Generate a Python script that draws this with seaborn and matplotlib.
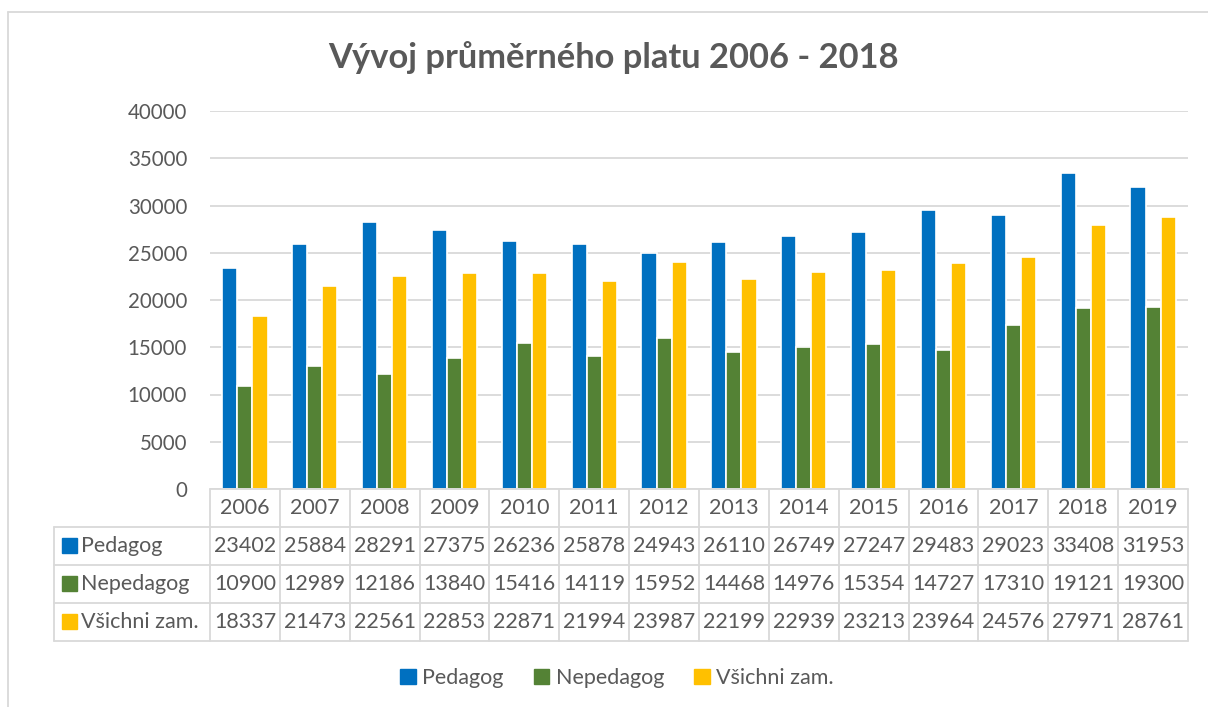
import pandas as pd
import seaborn as sns
import matplotlib.pyplot as plt
from matplotlib.lines import Line2D
from matplotlib.patches import Patch, Rectangle
from matplotlib.transforms import blended_transform_factory

years = ["2006", "2007", "2008", "2009", "2010", "2011", "2012",
         "2013", "2014", "2015", "2016", "2017", "2018", "2019"]
pedagog = [23402, 25884, 28291, 27375, 26236, 25878, 24943,
           26110, 26749, 27247, 29483, 29023, 33408, 31953]
nepedagog = [10900, 12989, 12186, 13840, 15416, 14119, 15952,
             14468, 14976, 15354, 14727, 17310, 19121, 19300]
vsichni = [18337, 21473, 22561, 22853, 22871, 21994, 23987,
           22199, 22939, 23213, 23964, 24576, 27971, 28761]
series_names = ["Pedagog", "Nepedagog", "Všichni zam."]
series_colors = ["#0070C0", "#548235", "#FFC000"]
title = "Vývoj průměrného platu 2006 - 2018"

W, H = 1208, 707
TEXT = "#595959"
GRID = "#D9D9D9"
FS = 15.5

sns.set_theme(style="white")
plt.rcParams["font.family"] = ["Lato", "DejaVu Sans"]

df = pd.DataFrame({
    "year": years * 3,
    "series": [s for s in series_names for _ in years],
    "value": pedagog + nepedagog + vsichni,
})

fig = plt.figure(figsize=(W / 100, H / 100), dpi=100)
ax = fig.add_axes([210 / W, 1 - 489 / H, 978 / W, 378 / H])
sns.barplot(
    data=df, x="year", y="value", hue="series",
    hue_order=series_names, palette=series_colors,
    width=0.65, edgecolor="white", linewidth=1.2,
    saturation=1, ax=ax, legend=False,
)
ax.set_xlim(-0.5, len(years) - 0.5)
ax.set_ylim(0, 40000)
ax.set_yticks(range(0, 40001, 5000))
ax.yaxis.grid(True, color=GRID, lw=1.3)
ax.set_axisbelow(True)
sns.despine(ax=ax, left=True, bottom=True)
ax.set_xticks([])
ax.set_xlabel("")
ax.set_ylabel("")
ax.tick_params(axis="y", length=0, pad=16.5, labelsize=14.8, labelcolor=TEXT)

# data table under the plot
tr = blended_transform_factory(ax.transData, fig.transFigure)
fy = lambda p: 1 - p / H
rows = [489, 527, 565, 603, 641]
x_left = -0.5 - 156 / (978 / len(years))
x_right = len(years) - 0.5
line_kw = dict(color=GRID, lw=1.3, transform=tr, clip_on=False)

fig.add_artist(Line2D([-0.5, x_right], [fy(rows[0])] * 2, **line_kw))
for r in rows[1:]:
    fig.add_artist(Line2D([x_left, x_right], [fy(r)] * 2, **line_kw))
for i in range(len(years) + 1):
    fig.add_artist(Line2D([i - 0.5] * 2, [fy(rows[0]), fy(rows[-1])], **line_kw))
fig.add_artist(Line2D([x_left] * 2, [fy(rows[1]), fy(rows[-1])], **line_kw))

for i, y in enumerate(years):
    fig.text(i, fy((rows[0] + rows[1]) / 2), y, transform=tr,
             ha="center", va="center", fontsize=FS, color=TEXT)

for k, (name, col, vals) in enumerate(zip(series_names, series_colors,
                                          [pedagog, nepedagog, vsichni])):
    yc = fy((rows[k + 1] + rows[k + 2]) / 2)
    fig.add_artist(Rectangle((62 / W, yc - 7 / H), 15 / W, 15 / H,
                             color=col, transform=fig.transFigure))
    fig.text(81 / W, yc, name, ha="left", va="center",
             fontsize=FS, color=TEXT)
    for i, v in enumerate(vals):
        fig.text(i, yc, str(v), transform=tr, ha="center", va="center",
                 fontsize=FS, color=TEXT)

fig.text(613 / W, fy(58), title, ha="center", va="center",
         fontsize=24.8, fontweight="bold", color=TEXT)

handles = [Patch(color=c, label=n) for n, c in zip(series_names, series_colors)]
fig.legend(handles=handles, loc="center", bbox_to_anchor=(617 / W, fy(678)),
           ncol=3, frameon=False, fontsize=15.5, labelcolor=TEXT,
           handlelength=0.72, handleheight=0.72, handletextpad=0.3,
           columnspacing=1.4)

# chart border
fig.add_artist(Line2D([8 / W, 8 / W], [0, fy(12)], color=GRID, lw=1.3))
fig.add_artist(Line2D([8 / W, 1], [fy(12)] * 2, color=GRID, lw=1.3))

fig.savefig("out.png", dpi=100)
